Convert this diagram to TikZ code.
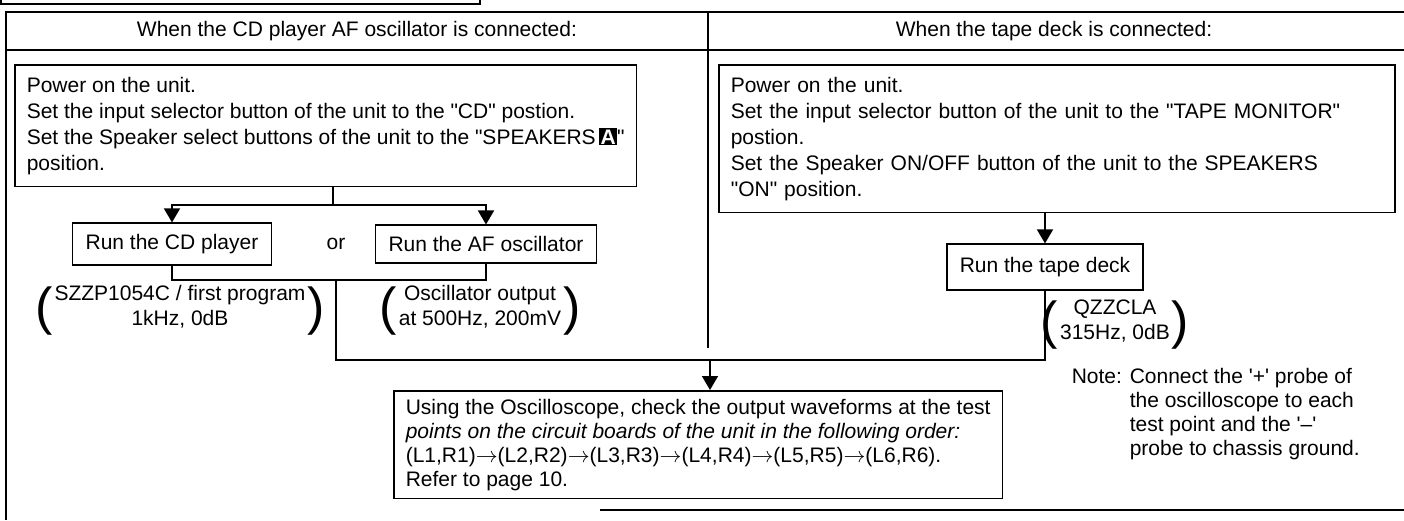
\documentclass[tikz,border=0pt]{standalone}
\usepackage{fontspec}
\setmainfont{Liberation Sans}[Ligatures=TeXOff]
\usetikzlibrary{arrows.meta,positioning}

% white letter on a black square
\newcommand{\spkA}{{\setlength{\fboxsep}{0.7pt}\colorbox{black}{\textcolor{white}{\textbf{A}}}}}
\newcommand{\tallparen}[1]{\raisebox{-5.5pt}{\fontsize{26}{26}\selectfont #1}}
\newcommand{\srcpair}[2]{\tallparen{(}\hspace{1pt}\begin{tabular}{@{}c@{}}#1\\#2\end{tabular}\hspace{1pt}\tallparen{)}}

\begin{document}
\begin{tikzpicture}[x=0.5pt,y=-0.5pt,line width=0.8pt,
  every node/.style={font=\fontsize{10.5}{12.5}\selectfont},
  stepbox/.style={draw, align=left, inner xsep=6pt, inner ysep=6pt, font=\fontsize{10.5}{13}\selectfont},
  runbox/.style={draw, inner xsep=6.5pt, inner ysep=5.5pt},
  flow/.style={-{Triangle[width=8pt,length=7pt]}}]
  \useasboundingbox (0,0) rectangle (1404,520);

  % frame and header row
  \draw (1,0) |- (480,4) -- (480,0);
  \draw (1404,12) -- (6,12) -- (6,520);
  \draw (600,510) -- (1404,510);
  \draw (6,50) -- (1404,50);
  \draw (708,12) -- (708,348);
  \node (cdhead)   at (357,31)  {When the CD player AF oscillator is connected:};
  \node (tapehead) at (1054,31) {When the tape deck is connected:};

  % CD / AF oscillator side
  \node[stepbox, anchor=north west] (cdset) at (14,64) {Power on the unit.\\Set the input selector button of the unit to the "CD" postion.\\Set the Speaker select buttons of the unit to the "SPEAKERS\,\spkA"\\position.};
  \node[runbox] (cdrun) at (172,244) {Run the CD player};
  \node (or) at (336,244) {or};
  \node[runbox] (afrun) at (486,244) {Run the AF oscillator};
  \node (cdsrc) at (180,309) {\srcpair{SZZP1054C / first program}{1kHz, 0dB}};
  \node (afsrc) at (480,309) {\srcpair{Oscillator output}{at 500Hz, 200mV}};

  % tape deck side
  \node[stepbox, anchor=north west, text width=326pt] (tapeset) at (718,64) {Power on the unit.\\Set the input selector button of the unit to the "TAPE MONITOR"\\postion.\\Set the Speaker ON/OFF button of the unit to the SPEAKERS\\"ON" position.};
  \node[runbox, inner ysep=6.5pt] (taperun) at (1045,267) {Run the tape deck};
  \node (tapesrc) at (1115,323) {\srcpair{QZZCLA}{315Hz, 0dB}};

  % check step and note
  \node[stepbox, anchor=north west, inner ysep=4pt, font=\fontsize{10.5}{12}\selectfont] (check) at (393,390) {Using the Oscilloscope, check the output waveforms at the test\\\textit{points on the circuit boards of the unit in the following order:}\\(L1,R1)$\rightarrow$(L2,R2)$\rightarrow$(L3,R3)$\rightarrow$(L4,R4)$\rightarrow$(L5,R5)$\rightarrow$(L6,R6).\\Refer to page 10.};
  \node[anchor=north west, inner sep=0pt, font=\fontsize{10.5}{12}\selectfont] (note) at (1071,366) {\begin{tabular}{@{}l@{ }l@{}}Note: & Connect the '+' probe of\\ & the oscilloscope to each\\ & test point and the '–'\\ & probe to chassis ground.\end{tabular}};

  % connectors
  \coordinate (split) at (333,205);
  \draw (cdset.south -| split) -- (split);
  \draw[flow] (split) -| (cdrun.north);
  \draw[flow] (split) -| (afrun.north);
  \coordinate (join) at (336,280);
  \draw (cdrun.south) |- (join);
  \draw (afrun.south) |- (join);
  \coordinate (merge) at (710,360);
  \draw (join) |- (merge);
  \draw (taperun.south) |- (merge);
  \draw[flow] (merge) -- (merge |- check.north);
  \draw[flow] (taperun.north |- tapeset.south) -- (taperun.north);
\end{tikzpicture}
\end{document}
